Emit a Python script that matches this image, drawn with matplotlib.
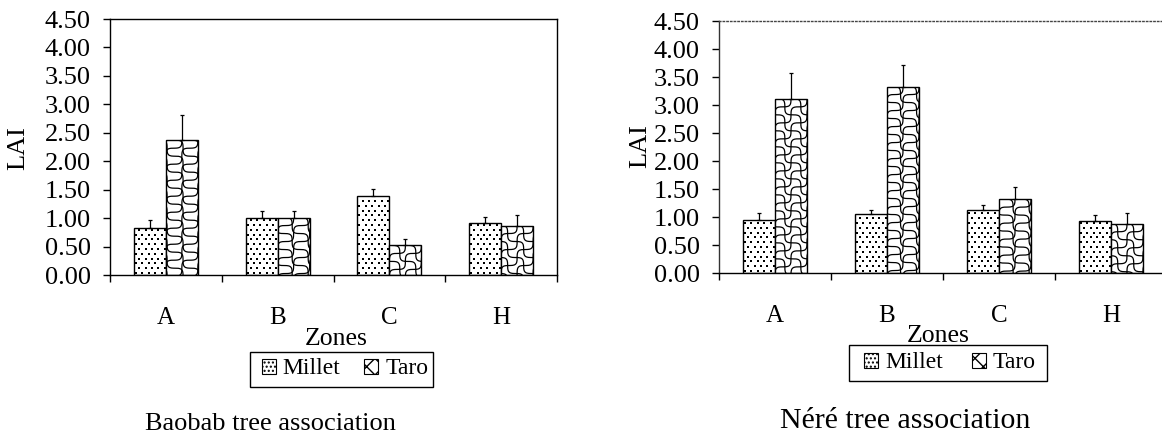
import numpy as np
import matplotlib
matplotlib.use("Agg")
import matplotlib.pyplot as plt
from matplotlib.lines import Line2D
from matplotlib.patches import Patch, Rectangle
from matplotlib.transforms import IdentityTransform

plt.rcParams['font.family'] = ['Liberation Serif', 'DejaVu Serif']
plt.rcParams['hatch.linewidth'] = 1.0

zones = ['A', 'B', 'C', 'H']

# LAI means and upper error (baobab association)
baobab_millet = [0.83, 1.01, 1.38, 0.91]
baobab_millet_err = [0.14, 0.11, 0.13, 0.11]
baobab_taro = [2.37, 1.01, 0.52, 0.87]
baobab_taro_err = [0.44, 0.12, 0.11, 0.18]

# LAI means and upper error (nere association)
nere_millet = [0.94, 1.05, 1.12, 0.93]
nere_millet_err = [0.14, 0.07, 0.09, 0.10]
nere_taro = [3.11, 3.33, 1.32, 0.88]
nere_taro_err = [0.46, 0.39, 0.22, 0.20]

W, H = 1162, 442
fig = plt.figure(figsize=(W / 100, H / 100), dpi=100)


def add_px_artist(ax, art, bar):
    art.set_transform(IdentityTransform())
    ax.add_artist(art)
    art.set_clip_path(bar)


def dot_fill(ax, bars, dx=6.4, dy=4.8):
    # staggered small squares, clipped to each bar
    for bar in bars:
        bb = bar.get_window_extent()
        xs, ys = [], []
        row = 0
        y = bb.y0 + 2
        while y < bb.y1:
            off = (dx / 2) * (row % 2)
            x = bb.x0 + 2 + off
            while x < bb.x1:
                xs.append(x)
                ys.append(y)
                x += dx
            y += dy
            row += 1
        ln = Line2D(xs, ys, ls='none', marker='s', ms=2.1, mfc='black', mec='black', mew=0)
        add_px_artist(ax, ln, bar)


def wave_fill(ax, bars, step=16.0, amp=3.6):
    # two families of wavy diagonals, clipped to each bar
    for bar in bars:
        bb = bar.get_window_extent()
        w, h = bb.width, bb.height
        s = np.linspace(0, w + h + 2 * step, int((w + h) * 2) + 50)
        wob = amp * np.sin(2 * np.pi * s / step)
        for c in np.arange(-h - step, w + step, step):
            px = bb.x0 + c + s + wob * 0.7071
            py = bb.y1 + step - s + wob * 0.7071
            add_px_artist(ax, Line2D(px, py, color='black', lw=0.9), bar)
        for c in np.arange(-step, w + h + step, step):
            px = bb.x0 + c - s + wob * 0.7071
            py = bb.y1 + step - s - wob * 0.7071
            add_px_artist(ax, Line2D(px, py, color='black', lw=0.9), bar)


def panel(rect, millet, millet_err, taro, taro_err, xmax, boxed,
          title, title_size, title_xy, lai_xy, zones_xy, leg_xy, leg_box, colsp):
    ax = fig.add_axes(rect)
    x = np.arange(len(zones))
    bw = 0.286
    ekw = dict(elinewidth=0.9, capthick=0.9, ecolor='black')
    mb = ax.bar(x - bw / 2, millet, bw, color='white', edgecolor='black', lw=1.0,
                yerr=[np.zeros(len(x)), millet_err], capsize=1.5, error_kw=ekw, zorder=2)
    tb = ax.bar(x + bw / 2, taro, bw, color='white', edgecolor='black', lw=1.0,
                yerr=[np.zeros(len(x)), taro_err], capsize=1.5, error_kw=ekw, zorder=2)
    ax.set_xlim(-0.5, xmax)
    ax.set_ylim(0, 4.5)
    yt = np.arange(0, 4.51, 0.5)
    ax.set_yticks(yt)
    ax.set_yticklabels(['%.2f' % v for v in yt], fontsize=19)
    ax.set_xticks(x)
    ax.set_xticklabels(zones, fontsize=18)
    ax.set_xticks(np.arange(-0.5, xmax + 0.01, 1.0), minor=True)
    ax.tick_params(axis='x', which='major', length=0, pad=23)
    ax.tick_params(axis='x', which='minor', length=5, direction='out', width=1)
    ax.tick_params(axis='y', length=5, width=1, pad=9)
    for sp in ax.spines.values():
        sp.set_linewidth(1.0)
    if not boxed:
        ax.spines['right'].set_visible(False)
        ax.spines['top'].set_linestyle(':')
        ax.spines['top'].set_color('#444444')
        ax.spines['left'].set_color('#333333')
    dot_fill(ax, mb)
    wave_fill(ax, tb)

    fig.text(lai_xy[0] / W, 1 - lai_xy[1] / H, 'LAI', rotation=90, fontsize=19,
             ha='center', va='center')
    fig.text(zones_xy[0] / W, 1 - zones_xy[1] / H, 'Zones', fontsize=18.5,
             ha='center', va='center')
    fig.text(title_xy[0] / W, 1 - title_xy[1] / H, title, fontsize=title_size,
             ha='center', va='center')
    handles = [Patch(facecolor='white', edgecolor='black', hatch='....', lw=0.8, label='Millet'),
               Patch(facecolor='white', edgecolor='black', hatch='xx', lw=0.8, label='Taro')]
    fig.legend(handles=handles, loc='center', ncol=2, fontsize=17,
               bbox_to_anchor=(leg_xy[0] / W, 1 - leg_xy[1] / H),
               frameon=False, handlelength=0.6, handleheight=0.6,
               handletextpad=0.3, columnspacing=colsp, borderpad=0.3)
    # plain rectangular frame around the legend
    bx0, by0, bx1, by1 = leg_box
    fig.add_artist(Rectangle((bx0 / W, 1 - by1 / H), (bx1 - bx0) / W, (by1 - by0) / H,
                             transform=fig.transFigure, fill=False, edgecolor='black', lw=1.0))
    return ax


panel([110 / W, 1 - 275 / H, 447 / W, 256 / H],
      baobab_millet, baobab_millet_err, baobab_taro, baobab_taro_err,
      3.5, True, 'Baobab tree association', 19, (270, 424), (18, 148), (336, 339),
      (345, 369), (250, 352, 433, 387), 1.0)

panel([719 / W, 1 - 273 / H, 443 / W, 252 / H],
      nere_millet, nere_millet_err, nere_taro, nere_taro_err,
      -0.5 + 443 / 112, False, 'Néré tree association', 21.5, (905, 421), (640, 146), (938, 336),
      (950, 363), (849, 345, 1047, 381), 1.2)

fig.savefig('out.png', dpi=100)
